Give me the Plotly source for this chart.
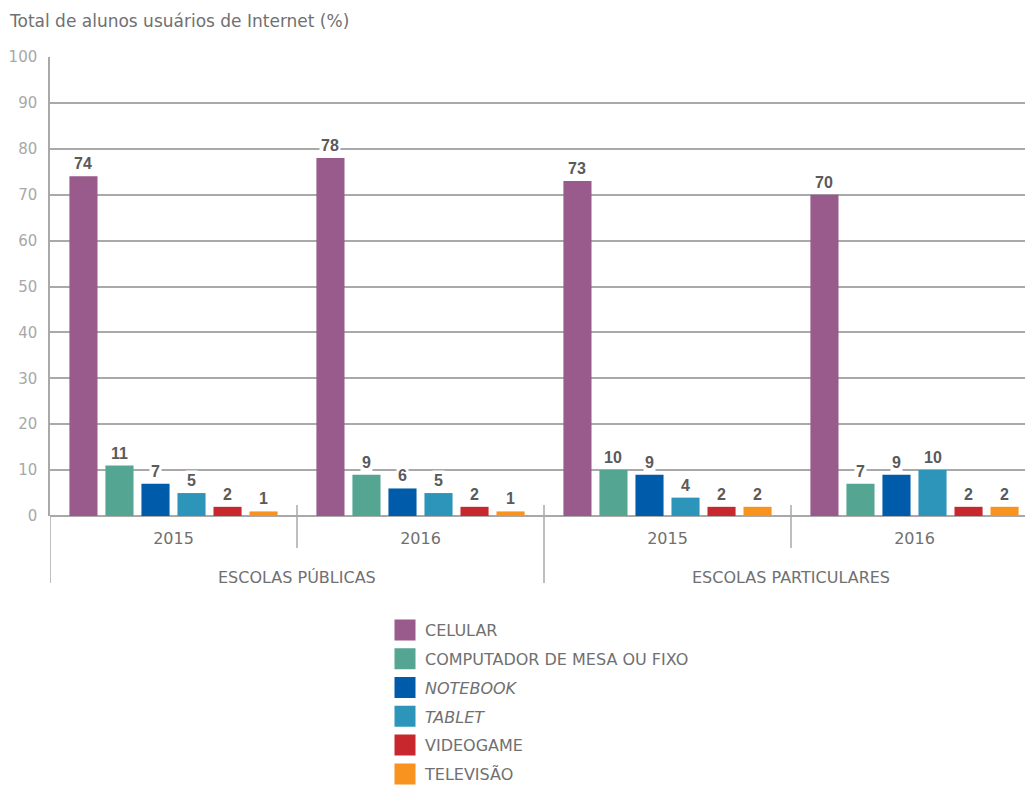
import plotly.graph_objects as go

# ---- data ----
schools = ["ESCOLAS PÚBLICAS", "ESCOLAS PARTICULARES"]
years = ["2015", "2016", "2015", "2016"]
series_names = ["CELULAR", "COMPUTADOR DE MESA OU FIXO", "<i>NOTEBOOK</i>", "<i>TABLET</i>", "VIDEOGAME", "TELEVISÃO"]
celular = [74, 78, 73, 70]
computador = [11, 9, 10, 7]
notebook = [7, 6, 9, 9]
tablet = [5, 5, 4, 10]
videogame = [2, 2, 2, 2]
televisao = [1, 1, 2, 2]
series_values = [celular, computador, notebook, tablet, videogame, televisao]
colors = ["#995A8C", "#55A593", "#005BAA", "#2E95BA", "#C8282D", "#F7931E"]
title_text = "Total de alunos usuários de Internet (%)"

# ---- layout constants ----
W, H = 1025, 789
ML, MR, MT, MB = 50, 0, 57, 273
bargap = 0.125
bargroupgap = 0.22
xpos = list(range(len(years)))
grid_col = "#A9A9A9"
text_col = "#707070"
light_col = "#A8A8A8"
label_col = "#5A5A5A"
FONT = "DejaVu Sans"

fig = go.Figure()
for i, (name, vals, col) in enumerate(zip(series_names, series_values, colors)):
    fig.add_trace(go.Bar(
        x=xpos, y=vals, name=name, marker=dict(color=col, line=dict(width=0)),
        showlegend=False, hoverinfo="y+name",
    ))
# legend entries (square swatches)
for i, (name, col) in enumerate(zip(series_names, colors)):
    fig.add_trace(go.Scatter(
        x=[None], y=[None], mode="markers", name=name, legendgroup=f"g{i}",
        marker=dict(symbol="square", size=16, color=col, line=dict(color=col, width=5)),
        showlegend=True, hoverinfo="skip",
    ))

# value labels (annotations with white background to break the gridlines)
n = len(series_names)
slot = (1 - bargap) / n
for i, vals in enumerate(series_values):
    for g, v in zip(xpos, vals):
        fig.add_annotation(
            x=g + (i - (n - 1) / 2) * slot, y=v, xref="x", yref="y",
            text=f"<b>{v}</b>", showarrow=False, yanchor="bottom", yshift=2,
            font=dict(family="Liberation Sans", size=16, color=label_col),
            bgcolor="white", borderpad=1,
        )

plot_h = H - MT - MB
def py(pix):
    return (H - MB - pix) / plot_h

# group separators
for k, xb in enumerate([-0.5, 0.5, 1.5, 2.5, 3.5]):
    long = (k % 2 == 0)
    fig.add_shape(type="line", xref="x", yref="paper", x0=xb, x1=xb,
                  y0=py(505) if k > 0 else 0, y1=py(583) if long else py(548),
                  line=dict(color=grid_col, width=1.5))

# school labels
for j, s in enumerate(schools):
    fig.add_annotation(x=2 * j + 0.5, y=py(577), xref="x", yref="paper", text=s,
                       showarrow=False, yanchor="middle",
                       font=dict(family=FONT, size=16, color=text_col))

fig.update_layout(
    width=W, height=H,
    margin=dict(l=ML, r=MR, t=MT, b=MB, pad=0, autoexpand=False),
    paper_bgcolor="white", plot_bgcolor="white",
    barmode="group", bargap=bargap, bargroupgap=bargroupgap,
    title=dict(text=title_text, x=10 / W, xref="container", xanchor="left",
               y=1 - 21 / H, yref="container", yanchor="middle",
               font=dict(family=FONT, size=17, color=text_col)),
    xaxis=dict(range=[-0.5, -0.5 + (W - ML - MR) / 247], tickvals=xpos, ticktext=years,
               showgrid=False, zeroline=False, showline=False,
               ticks="outside", ticklen=8, tickcolor="rgba(0,0,0,0)",
               tickfont=dict(family=FONT, size=16, color=text_col)),
    yaxis=dict(range=[0, 100], dtick=10, showgrid=True, gridcolor=grid_col, gridwidth=1.5,
               zeroline=True, zerolinecolor=grid_col, zerolinewidth=1.5,
               showline=True, linecolor=grid_col, linewidth=1.5,
               ticks="outside", ticklen=8, tickcolor="rgba(0,0,0,0)",
               tickfont=dict(family=FONT, size=15, color=light_col)),
    legend=dict(x=385 / W, xref="container", xanchor="left",
                y=1 - 613 / H, yref="container", yanchor="top", tracegroupgap=5,
                font=dict(family=FONT, size=16, color=text_col),
                bgcolor="rgba(0,0,0,0)"),
    showlegend=True,
)

fig.write_html("out.html")
